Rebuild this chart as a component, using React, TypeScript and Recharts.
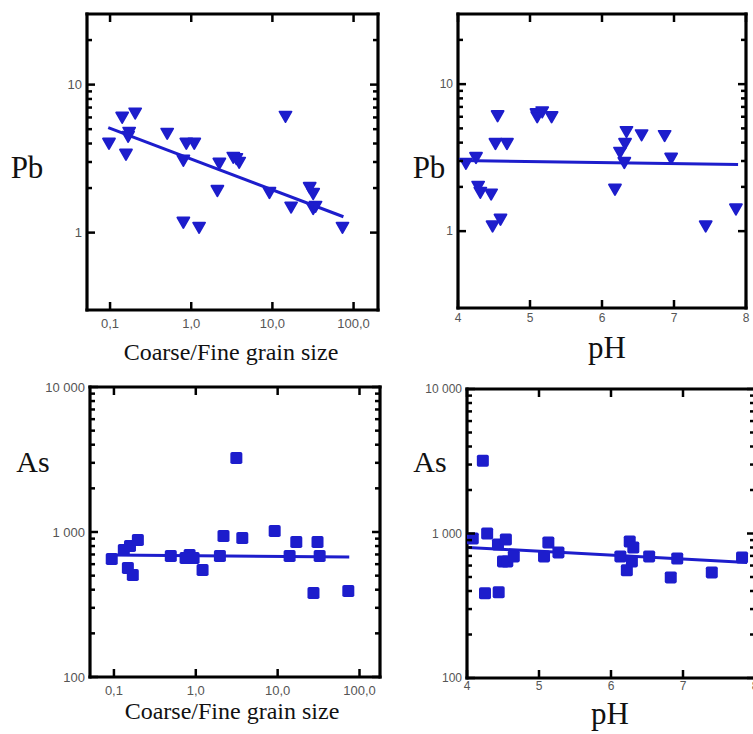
import React from "react";
import { ScatterChart, Scatter, XAxis, YAxis } from "recharts";

// ---------- data ----------
const pbGrainX = [0.097, 0.141, 0.204, 0.172, 0.167, 0.157, 0.506, 0.87, 1.09, 0.8, 0.8, 1.25, 2.22, 2.1, 3.3, 3.6, 3.9, 9.2, 14.5, 17.0, 28.8, 31.8, 31.8, 34, 73];
const pbGrainY = [4.0, 6.0, 6.4, 4.74, 4.45, 3.37, 4.67, 4.0, 4.0, 3.07, 1.17, 1.08, 2.93, 1.92, 3.21, 3.15, 2.97, 1.86, 6.08, 1.48, 2.01, 1.83, 1.45, 1.5, 1.08];
const pbGrainFitX = [0.095, 75];
const pbGrainFitY = [5.12, 1.28];

const pbPhX = [4.11, 4.25, 4.28, 4.31, 4.46, 4.48, 4.59, 4.55, 4.52, 4.68, 5.09, 5.17, 5.1, 5.3, 6.18, 6.25, 6.32, 6.34, 6.31, 6.55, 6.87, 6.96, 7.44, 7.86];
const pbPhY = [2.88, 3.16, 2.01, 1.83, 1.78, 1.08, 1.2, 6.07, 3.93, 3.93, 6.27, 6.45, 5.98, 5.98, 1.92, 3.42, 3.93, 4.74, 2.92, 4.5, 4.45, 3.12, 1.08, 1.41];
const pbPhFitX = [4.03, 7.89];
const pbPhFitY = [3.02, 2.84];

const asGrainX = [0.094, 0.132, 0.157, 0.196, 0.148, 0.17, 0.495, 0.75, 0.84, 0.94, 1.21, 1.97, 2.18, 3.13, 3.7, 9.2, 14, 16.9, 30.7, 32.6, 27.4, 73];
const asGrainY = [652, 751, 800, 880, 565, 505, 683, 662, 694, 662, 547, 683, 938, 3237, 909, 1016, 683, 853, 853, 683, 380, 392];
const asGrainFitX = [0.094, 75];
const asGrainFitY = [694, 672];

const asPhX = [4.08, 4.28, 4.22, 4.25, 4.44, 4.43, 4.54, 4.5, 4.56, 4.65, 5.07, 5.13, 5.27, 6.13, 6.22, 6.26, 6.31, 6.29, 6.53, 6.83, 6.92, 7.4, 7.82];
const asPhY = [924, 1000, 3188, 386, 392, 840, 909, 641, 641, 694, 694, 867, 740, 694, 556, 880, 800, 641, 694, 497, 672, 538, 683];
const asPhFitX = [4.01, 7.89];
const asPhFitY = [801, 631];

// ticks and tick labels
const grainTicks = [0.1, 1, 10, 100];
const grainTickLabels = ["0,1", "1,0", "10,0", "100,0"];
const phTicks = [4, 5, 6, 7, 8];
const phTickLabels = ["4", "5", "6", "7", "8"];
const pbTicks = [1, 2, 3, 4, 5, 6, 7, 8, 9, 10, 20];
const pbMajor = [1, 10];
const pbMajorLabels = ["1", "10"];
const asTicks = [100, 200, 300, 400, 500, 600, 700, 800, 900, 1000, 2000, 3000, 4000, 5000, 6000, 7000, 8000, 9000, 10000];
const asMajor = [100, 1000, 10000];
const asMajorLabels = ["100", "1 000", "10 000"];

const BLUE = "#1d1dcc";

const zip = (xs: number[], ys: number[]) => xs.map((x, i) => ({ x, y: ys[i] }));

const Triangle = (p: any) => {
  const { cx, cy } = p;
  if (cx == null || cy == null) return <g />;
  return (
    <path
      d={`M${cx - 6},${cy - 5} L${cx + 6},${cy - 5} L${cx},${cy + 5.5} Z`}
      fill={BLUE}
      stroke={BLUE}
      strokeWidth={1.8}
      strokeLinejoin="round"
    />
  );
};

const Square = (p: any) => {
  const { cx, cy } = p;
  if (cx == null || cy == null) return <g />;
  return <rect x={cx - 6} y={cy - 6} width={12} height={12} rx={1.8} fill={BLUE} />;
};

const NoShape = () => <g />;

type PanelProps = {
  left: number;
  top: number;
  width: number;
  height: number;
  pl: number;
  pt: number;
  pr: number;
  pb: number;
  xLog: boolean;
  xDomain: [number, number];
  yDomain: [number, number];
  xTicks: number[];
  xTickLabels: string[];
  yTicks: number[];
  yMajor: number[];
  yMajorLabels: string[];
  xLabelDy: number;
  xFont: number;
  yFont: number;
  yLabelGap: number;
  data: { x: number; y: number }[];
  fit: { x: number; y: number }[];
  shape: any;
};

function Panel(P: PanelProps) {
  const { pl, pt, pr, pb } = P;
  const margin = { top: pt - 10, left: pl - 60, right: P.width - pr - 10, bottom: P.height - pb - 40 };
  const tickColor = "#000";
  const labelFont = "'Liberation Sans', Arial, sans-serif";

  const leftTick = (props: any) => {
    const v = props.payload.value;
    const y = props.y;
    const idx = P.yMajor.indexOf(v);
    const major = idx >= 0;
    return (
      <g>
        <line x1={pl} x2={pl + (major ? 8 : 5)} y1={y} y2={y} stroke={tickColor} strokeWidth={2.5} />
        {major && (
          <text x={pl - P.yLabelGap} y={y} dy="0.35em" textAnchor="end" fontSize={P.yFont} fill="#555" fontFamily={labelFont}>
            {P.yMajorLabels[idx]}
          </text>
        )}
      </g>
    );
  };
  const rightTick = (props: any) => {
    const v = props.payload.value;
    const y = props.y;
    const major = P.yMajor.indexOf(v) >= 0;
    return <line x1={pr} x2={pr - (major ? 8 : 5)} y1={y} y2={y} stroke={tickColor} strokeWidth={2.5} />;
  };
  const bottomTick = (props: any) => {
    const v = props.payload.value;
    const x = props.x;
    const idx = P.xTicks.indexOf(v);
    return (
      <g>
        <line x1={x} x2={x} y1={pb} y2={pb - 8} stroke={tickColor} strokeWidth={2.5} />
        <text x={x} y={pb + P.xLabelDy} dy="0.35em" textAnchor="middle" fontSize={P.xFont} fill="#555" fontFamily={labelFont}>
          {P.xTickLabels[idx]}
        </text>
      </g>
    );
  };
  const topTick = (props: any) => {
    const x = props.x;
    return <line x1={x} x2={x} y1={pt} y2={pt + 8} stroke={tickColor} strokeWidth={2.5} />;
  };

  const axisLine = { stroke: "#000", strokeWidth: 3.2, strokeLinecap: "square" as const };
  const xScale = P.xLog ? "log" : "linear";

  return (
    <div style={{ position: "absolute", left: P.left, top: P.top, width: P.width, height: P.height }}>
      <ScatterChart width={P.width} height={P.height} margin={margin}>
        <XAxis xAxisId="b" orientation="bottom" type="number" dataKey="x" scale={xScale} domain={P.xDomain} allowDataOverflow ticks={P.xTicks} interval={0} tickLine={false} axisLine={axisLine} tick={bottomTick} height={40} />
        <XAxis xAxisId="t" orientation="top" type="number" dataKey="x" scale={xScale} domain={P.xDomain} allowDataOverflow ticks={P.xTicks} interval={0} tickLine={false} axisLine={axisLine} tick={topTick} height={10} />
        <YAxis yAxisId="l" orientation="left" type="number" dataKey="y" scale="log" domain={P.yDomain} allowDataOverflow ticks={P.yTicks} interval={0} tickLine={false} axisLine={axisLine} tick={leftTick} width={60} />
        <YAxis yAxisId="r" orientation="right" type="number" dataKey="y" scale="log" domain={P.yDomain} allowDataOverflow ticks={P.yTicks} interval={0} tickLine={false} axisLine={axisLine} tick={rightTick} width={10} />
        <Scatter xAxisId="b" yAxisId="l" data={P.fit} line={{ stroke: BLUE, strokeWidth: 3 }} lineType="joint" shape={NoShape} isAnimationActive={false} legendType="none" />
        <Scatter xAxisId="b" yAxisId="l" data={P.data} shape={P.shape} isAnimationActive={false} legendType="none" />
      </ScatterChart>
    </div>
  );
}

const serif = "'Liberation Serif', 'Times New Roman', serif";

function Title({ x, y, size, children }: { x: number; y: number; size: number; children: React.ReactNode }) {
  return (
    <div
      style={{
        position: "absolute",
        left: x,
        top: y,
        transform: "translate(-50%, -50%)",
        fontFamily: serif,
        fontSize: size,
        lineHeight: 1,
        whiteSpace: "nowrap",
        color: "#111",
      }}
    >
      {children}
    </div>
  );
}

export default function App() {
  return (
    <div style={{ position: "absolute", left: 0, top: 0, width: 753, height: 734, overflow: "hidden", background: "#fff" }}>
      <Panel
        left={0} top={0} width={390} height={365}
        pl={87} pt={14} pr={378} pb={310}
        xLog xDomain={[0.052, 200]} yDomain={[0.3, 30]}
        xTicks={grainTicks} xTickLabels={grainTickLabels}
        yTicks={pbTicks} yMajor={pbMajor} yMajorLabels={pbMajorLabels}
        xLabelDy={13} xFont={13} yFont={13} yLabelGap={5}
        data={zip(pbGrainX, pbGrainY)} fit={zip(pbGrainFitX, pbGrainFitY)} shape={Triangle}
      />
      <Panel
        left={390} top={0} width={375} height={365}
        pl={68} pt={14} pr={356} pb={308}
        xLog={false} xDomain={[4, 8]} yDomain={[0.3, 30]}
        xTicks={phTicks} xTickLabels={phTickLabels}
        yTicks={pbTicks} yMajor={pbMajor} yMajorLabels={pbMajorLabels}
        xLabelDy={10} xFont={12} yFont={12} yLabelGap={5}
        data={zip(pbPhX, pbPhY)} fit={zip(pbPhFitX, pbPhFitY)} shape={Triangle}
      />
      <Panel
        left={0} top={365} width={390} height={369}
        pl={90} pt={22} pr={380} pb={312}
        xLog xDomain={[0.051, 178]} yDomain={[100, 10000]}
        xTicks={grainTicks} xTickLabels={grainTickLabels}
        yTicks={asTicks} yMajor={asMajor} yMajorLabels={asMajorLabels}
        xLabelDy={13} xFont={13} yFont={13} yLabelGap={5}
        data={zip(asGrainX, asGrainY)} fit={zip(asGrainFitX, asGrainFitY)} shape={Square}
      />
      <Panel
        left={390} top={365} width={375} height={369}
        pl={77} pt={24} pr={365} pb={313}
        xLog={false} xDomain={[4, 8]} yDomain={[100, 10000]}
        xTicks={phTicks} xTickLabels={phTickLabels}
        yTicks={asTicks} yMajor={asMajor} yMajorLabels={asMajorLabels}
        xLabelDy={8} xFont={12} yFont={12} yLabelGap={5}
        data={zip(asPhX, asPhY)} fit={zip(asPhFitX, asPhFitY)} shape={Square}
      />
      <Title x={27} y={167} size={31}>Pb</Title>
      <Title x={429} y={167} size={31}>Pb</Title>
      <Title x={33} y={462} size={30}>As</Title>
      <Title x={430} y={462} size={30}>As</Title>
      <Title x={231} y={352} size={24}>Coarse/Fine grain size</Title>
      <Title x={232} y={711} size={24}>Coarse/Fine grain size</Title>
      <Title x={607} y={347} size={31}>pH</Title>
      <Title x={610} y={713} size={31}>pH</Title>
    </div>
  );
}
